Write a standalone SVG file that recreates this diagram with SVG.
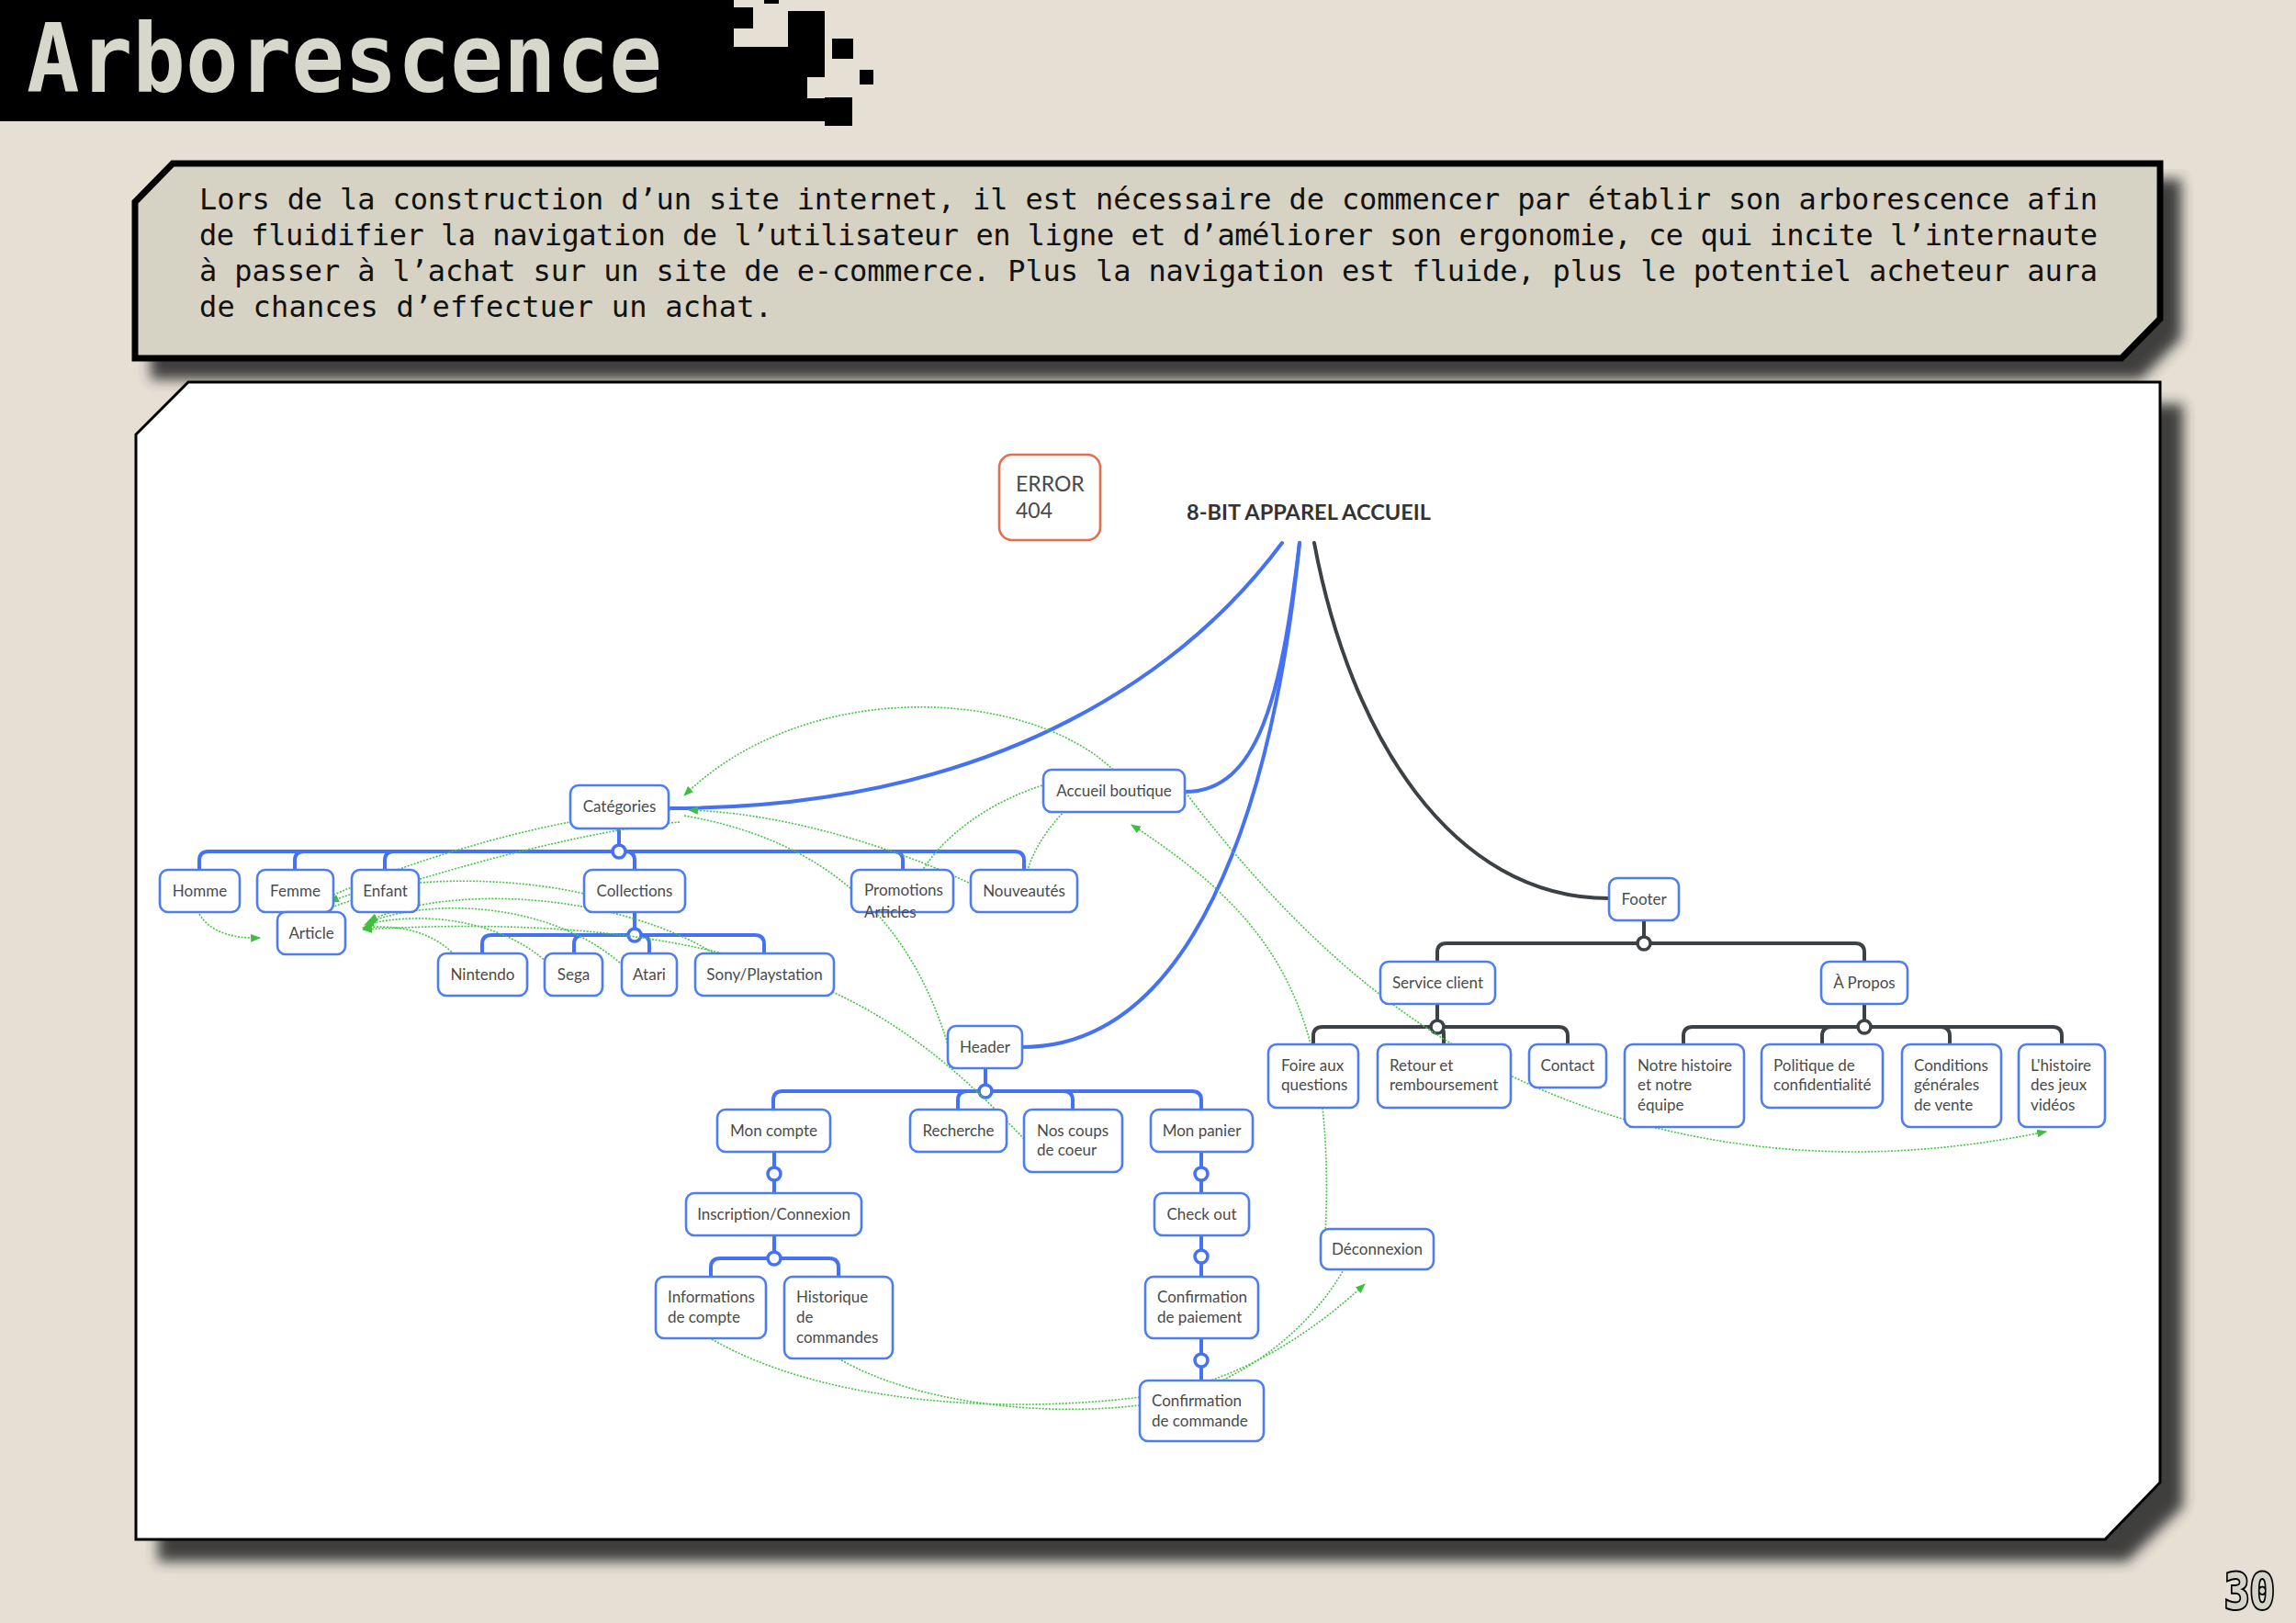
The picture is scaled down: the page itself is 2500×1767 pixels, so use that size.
<svg xmlns="http://www.w3.org/2000/svg" width="2500" height="1767" viewBox="0 0 2500 1767">
<defs>
<style>
.nb{fill:#fff;stroke:#4d7cf3;stroke-width:2.6}
.nt{font-family:Lato,"Noto Sans",sans-serif;font-size:17px;fill:#4a4a4a}
.big{font-size:23px}
.c{text-anchor:middle}
.bl{fill:none;stroke:#4572f4;stroke-width:4;stroke-linecap:round}
.dk{fill:none;stroke:#3c4146;stroke-width:4;stroke-linecap:round}
.cb{fill:#fff;stroke:#4572f4;stroke-width:3.5}
.cd{fill:#fff;stroke:#3c4146;stroke-width:3.5}
.g{fill:none;stroke:#45c645;stroke-width:1.6;stroke-dasharray:2 1.6}
.px{fill:#000}
.desc{font-family:"DejaVu Sans Mono",monospace;font-size:32px;fill:#111}
</style>
<marker id="ga" viewBox="0 0 10 8" refX="9" refY="4" markerWidth="11" markerHeight="9" markerUnits="userSpaceOnUse" orient="auto">
<path d="M0,0 L10,4 L0,8 z" fill="#3fbf3f"/>
</marker>
<filter id="sh" x="-5%" y="-5%" width="110%" height="115%">
<feGaussianBlur stdDeviation="7"/>
</filter>
</defs>
<rect width="2500" height="1767" fill="#e5dfd4"/>

<!-- title bar -->
<g id="title">
<rect class="px" x="0" y="0" width="799" height="132"/>
<rect class="px" x="799" y="51" width="80" height="81"/>
<rect class="px" x="799" y="8" width="21" height="23"/>
<rect class="px" x="832" y="0" width="16" height="4"/>
<rect class="px" x="858" y="12" width="40" height="41"/>
<rect class="px" x="879" y="53" width="19" height="31"/>
<rect class="px" x="879" y="107" width="19" height="25"/>
<rect class="px" x="898" y="106" width="30" height="31"/>
<rect class="px" x="906" y="42" width="23" height="22"/>
<rect class="px" x="936" y="76" width="15" height="16"/>
<text x="29" y="100" font-family="'DejaVu Sans Mono',monospace" font-weight="bold" font-size="103" fill="#d7d7cc" textLength="692" lengthAdjust="spacingAndGlyphs">Arborescence</text>
</g>

<!-- description box -->
<g id="description">
<polygon points="208,195 2375,195 2375,368 2331,413 164,413 164,240" fill="#2e2e2e" filter="url(#sh)" opacity="0.9"/>
<polygon points="188,178 2352,178 2352,347 2310,390 147,390 147,220" fill="#d6d3c5" stroke="#000" stroke-width="7" stroke-linejoin="miter"/>
<text class="desc" x="217" y="228" textLength="2067" lengthAdjust="spacing">Lors de la construction d’un site internet, il est nécessaire de commencer par établir son arborescence afin</text>
<text class="desc" x="217" y="267" textLength="2067" lengthAdjust="spacing">de fluidifier la navigation de l’utilisateur en ligne et d’améliorer son ergonomie, ce qui incite l’internaute</text>
<text class="desc" x="217" y="306" textLength="2067" lengthAdjust="spacing">à passer à l’achat sur un site de e-commerce. Plus la navigation est fluide, plus le potentiel acheteur aura</text>
<text class="desc" x="217" y="345" textLength="624" lengthAdjust="spacing">de chances d’effectuer un achat.</text>
</g>

<!-- panel -->
<g id="panel">
<polygon points="230,440 2377,440 2377,1640 2316,1700 172,1700 172,497" fill="#2e2e2e" filter="url(#sh)" opacity="0.9"/>
<polygon points="205,416 2352,416 2352,1614 2292,1676 148,1676 148,473" fill="#fff" stroke="#000" stroke-width="3"/>
</g>

<!-- connectors -->
<g id="connectors">
<!-- root -->
<path class="bl" d="M1396,591 C1300,720 1100,880 728,880"/>
<path class="bl" d="M1415,591 C1395,760 1370,862 1290,862"/>
<path class="bl" d="M1415,591 C1385,890 1295,1140 1113,1140"/>
<path class="dk" d="M1431,591 C1470,800 1580,978 1752,978"/>
<!-- Catégories -->
<path class="bl" d="M674,902 V920 M217,947 V937 Q217,927 227,927 H1105 Q1115,927 1115,937 V947 M321,947 V937 Q321,927 331,927 M419,947 V937 Q419,927 429,927 M691,947 V937 Q691,927 681,927 M983,947 V937 Q983,927 973,927"/>
<circle class="cb" cx="674" cy="927" r="7"/>
<!-- Collections -->
<path class="bl" d="M691,993 V1011 M525,1038 V1028 Q525,1018 535,1018 H822 Q832,1018 832,1028 V1038 M625,1038 V1028 Q625,1018 635,1018 M707,1038 V1028 Q707,1018 697,1018"/>
<circle class="cb" cx="691" cy="1018" r="7"/>
<!-- Header -->
<path class="bl" d="M1073,1163 V1181 M842,1208 V1198 Q842,1188 852,1188 H1298 Q1308,1188 1308,1198 V1208 M1043,1208 V1198 Q1043,1188 1053,1188 M1168,1208 V1198 Q1168,1188 1158,1188"/>
<circle class="cb" cx="1073" cy="1188" r="7"/>
<!-- Mon compte -->
<path class="bl" d="M843,1254 V1299 M843,1345 V1363 M774,1390 V1380 Q774,1370 784,1370 H903 Q913,1370 913,1380 V1390"/>
<circle class="cb" cx="843" cy="1278" r="7"/>
<circle class="cb" cx="843" cy="1370" r="7"/>
<!-- Mon panier -->
<path class="bl" d="M1308,1254 V1299 M1308,1345 V1390 M1308,1457 V1503"/>
<circle class="cb" cx="1308" cy="1278" r="7"/>
<circle class="cb" cx="1308" cy="1368" r="7"/>
<circle class="cb" cx="1308" cy="1481" r="7"/>
<!-- Footer -->
<path class="dk" d="M1790,1002 V1020 M1565,1047 V1037 Q1565,1027 1575,1027 H2020 Q2030,1027 2030,1037 V1047"/>
<circle class="cd" cx="1790" cy="1027" r="7"/>
<path class="dk" d="M1565,1093 V1111 M1430,1137 V1128 Q1430,1118 1440,1118 H1697 Q1707,1118 1707,1128 V1137 M1572,1137 V1126 Q1572,1118 1565,1118"/>
<circle class="cd" cx="1565" cy="1118" r="7"/>
<path class="dk" d="M2030,1093 V1111 M1833,1137 V1128 Q1833,1118 1843,1118 H2235 Q2245,1118 2245,1128 V1137 M1984,1137 V1128 Q1984,1118 1994,1118 M2123,1137 V1128 Q2123,1118 2113,1118"/>
<circle class="cd" cx="2030" cy="1118" r="7"/>

<!-- green links -->
<path class="g" marker-end="url(#ga)" d="M217,995 C228,1014 252,1022 283,1021"/>
<path class="g" marker-end="url(#ga)" d="M1212,838 C1120,750 880,735 745,866"/>
<path class="g" marker-end="url(#ga)" d="M1205,840 C1110,850 1020,900 990,975"/>
<path class="g" marker-end="url(#ga)" d="M1212,840 C1150,880 1115,930 1115,973"/>
<path class="g" marker-end="url(#ga)" d="M1115,993 C1010,930 860,885 750,882"/>
<path class="g" marker-end="url(#ga)" d="M730,882 C600,885 400,950 310,1000"/>
<path class="g" marker-end="url(#ga)" d="M740,895 C620,905 420,965 318,1003"/>
<path class="g" marker-end="url(#ga)" d="M700,993 C600,950 430,950 359,982"/>
<path class="g" marker-end="url(#ga)" d="M525,1083 C495,1020 450,1005 395,1010"/>
<path class="g" marker-end="url(#ga)" d="M624,1083 C580,1005 470,988 397,1007"/>
<path class="g" marker-end="url(#ga)" d="M706,1083 C640,985 480,972 399,1005"/>
<path class="g" marker-end="url(#ga)" d="M831,1083 C740,975 500,955 401,1003"/>
<path class="g" d="M745,888 C900,915 990,1000 1032,1137"/>
<path class="g" marker-end="url(#ga)" d="M1115,1240 C1000,1120 860,985 395,1012"/>
<path class="g" marker-end="url(#ga)" d="M1291,863 C1420,1030 1560,1160 1780,1222 C1950,1268 2100,1258 2228,1232"/>
<path class="g" marker-end="url(#ga)" d="M1443,1345 C1455,1100 1390,1000 1232,898"/>
<path class="g" marker-end="url(#ga)" d="M775,1458 C900,1530 1100,1540 1250,1520 C1350,1505 1430,1450 1486,1398"/>
<path class="g" d="M913,1479 C1000,1530 1150,1545 1262,1527 C1360,1505 1430,1440 1462,1384"/>
</g>

<!-- nodes -->
<g id="n-error"><rect x="1088" y="495" width="110" height="93" rx="14" fill="#fff" stroke="#e0704f" stroke-width="2.6"/><text class="nt big" x="1106" y="535">ERROR</text><text class="nt big" x="1106" y="564">404</text></g>
<g id="n-root"><text x="1425" y="566" font-family="Lato,'Noto Sans',sans-serif" font-weight="bold" font-size="22" fill="#333" text-anchor="middle" textLength="266" lengthAdjust="spacingAndGlyphs">8-BIT APPAREL ACCUEIL</text></g>
<g id="n-categories"><rect class="nb" x="621" y="855" width="107" height="47" rx="9"/><text class="nt c" x="674.5" y="884">Catégories</text></g>
<g id="n-homme"><rect class="nb" x="174" y="947" width="87" height="46" rx="9"/><text class="nt c" x="217.5" y="976">Homme</text></g>
<g id="n-femme"><rect class="nb" x="280" y="947" width="83" height="46" rx="9"/><text class="nt c" x="321.5" y="976">Femme</text></g>
<g id="n-enfant"><rect class="nb" x="383" y="947" width="73" height="46" rx="9"/><text class="nt c" x="419.5" y="976">Enfant</text></g>
<g id="n-article"><rect class="nb" x="302" y="993" width="74" height="46" rx="9"/><text class="nt c" x="339" y="1022">Article</text></g>
<g id="n-collections"><rect class="nb" x="636" y="947" width="110" height="46" rx="9"/><text class="nt c" x="691" y="976">Collections</text></g>
<g id="n-nintendo"><rect class="nb" x="477" y="1038" width="97" height="46" rx="9"/><text class="nt c" x="525.5" y="1067">Nintendo</text></g>
<g id="n-sega"><rect class="nb" x="593" y="1038" width="63" height="46" rx="9"/><text class="nt c" x="624.5" y="1067">Sega</text></g>
<g id="n-atari"><rect class="nb" x="677" y="1038" width="60" height="46" rx="9"/><text class="nt c" x="707" y="1067">Atari</text></g>
<g id="n-sony"><rect class="nb" x="757" y="1038" width="151" height="46" rx="9"/><text class="nt c" x="832.5" y="1067">Sony/Playstation</text></g>
<g id="n-promotions"><rect class="nb" x="927" y="947" width="111" height="46" rx="9"/><text class="nt" x="941" y="975">Promotions</text><text class="nt" x="941" y="999">Articles</text></g>
<g id="n-nouveautes"><rect class="nb" x="1057" y="947" width="116" height="46" rx="9"/><text class="nt c" x="1115" y="976">Nouveautés</text></g>
<g id="n-accueil"><rect class="nb" x="1136" y="838" width="154" height="46" rx="9"/><text class="nt c" x="1213" y="867">Accueil boutique</text></g>
<g id="n-header"><rect class="nb" x="1032" y="1117" width="81" height="46" rx="9"/><text class="nt c" x="1072.5" y="1146">Header</text></g>
<g id="n-moncompte"><rect class="nb" x="781" y="1208" width="123" height="46" rx="9"/><text class="nt c" x="842.5" y="1237">Mon compte</text></g>
<g id="n-recherche"><rect class="nb" x="991" y="1208" width="105" height="46" rx="9"/><text class="nt c" x="1043.5" y="1237">Recherche</text></g>
<g id="n-coups"><rect class="nb" x="1115" y="1208" width="107" height="68" rx="9"/><text class="nt" x="1129" y="1237">Nos coups</text><text class="nt" x="1129" y="1258">de coeur</text></g>
<g id="n-panier"><rect class="nb" x="1253" y="1208" width="111" height="46" rx="9"/><text class="nt c" x="1308.5" y="1237">Mon panier</text></g>
<g id="n-inscription"><rect class="nb" x="747" y="1299" width="191" height="46" rx="9"/><text class="nt c" x="842.5" y="1328">Inscription/Connexion</text></g>
<g id="n-checkout"><rect class="nb" x="1257" y="1299" width="103" height="46" rx="9"/><text class="nt c" x="1308.5" y="1328">Check out</text></g>
<g id="n-infos"><rect class="nb" x="714" y="1390" width="120" height="67" rx="9"/><text class="nt" x="727" y="1418">Informations</text><text class="nt" x="727" y="1440">de compte</text></g>
<g id="n-historique"><rect class="nb" x="854" y="1390" width="118" height="89" rx="9"/><text class="nt" x="867" y="1418">Historique</text><text class="nt" x="867" y="1440">de</text><text class="nt" x="867" y="1462">commandes</text></g>
<g id="n-paiement"><rect class="nb" x="1247" y="1390" width="123" height="67" rx="9"/><text class="nt" x="1260" y="1418">Confirmation</text><text class="nt" x="1260" y="1440">de paiement</text></g>
<g id="n-commande"><rect class="nb" x="1241" y="1503" width="135" height="66" rx="9"/><text class="nt" x="1254" y="1531">Confirmation</text><text class="nt" x="1254" y="1553">de commande</text></g>
<g id="n-deconnexion"><rect class="nb" x="1438" y="1338" width="123" height="44" rx="9"/><text class="nt c" x="1499.5" y="1366">Déconnexion</text></g>
<g id="n-footer"><rect class="nb" x="1752" y="956" width="76" height="46" rx="9"/><text class="nt c" x="1790" y="985">Footer</text></g>
<g id="n-service"><rect class="nb" x="1503" y="1047" width="125" height="46" rx="9"/><text class="nt c" x="1565.5" y="1076">Service client</text></g>
<g id="n-apropos"><rect class="nb" x="1983" y="1047" width="94" height="46" rx="9"/><text class="nt c" x="2030" y="1076">À Propos</text></g>
<g id="n-foire"><rect class="nb" x="1381" y="1137" width="98" height="69" rx="9"/><text class="nt" x="1395" y="1166">Foire aux</text><text class="nt" x="1395" y="1187">questions</text></g>
<g id="n-retour"><rect class="nb" x="1500" y="1137" width="145" height="69" rx="9"/><text class="nt" x="1513" y="1166">Retour et</text><text class="nt" x="1513" y="1187">remboursement</text></g>
<g id="n-contact"><rect class="nb" x="1665" y="1137" width="84" height="47" rx="9"/><text class="nt c" x="1707" y="1166">Contact</text></g>
<g id="n-notre"><rect class="nb" x="1769" y="1137" width="130" height="90" rx="9"/><text class="nt" x="1783" y="1166">Notre histoire</text><text class="nt" x="1783" y="1187">et notre</text><text class="nt" x="1783" y="1209">équipe</text></g>
<g id="n-politique"><rect class="nb" x="1918" y="1137" width="132" height="69" rx="9"/><text class="nt" x="1931" y="1166">Politique de</text><text class="nt" x="1931" y="1187">confidentialité</text></g>
<g id="n-conditions"><rect class="nb" x="2071" y="1137" width="108" height="90" rx="9"/><text class="nt" x="2084" y="1166">Conditions</text><text class="nt" x="2084" y="1187">générales</text><text class="nt" x="2084" y="1209">de vente</text></g>
<g id="n-lhistoire"><rect class="nb" x="2198" y="1137" width="94" height="90" rx="9"/><text class="nt" x="2211" y="1166">L'histoire</text><text class="nt" x="2211" y="1187">des jeux</text><text class="nt" x="2211" y="1209">vidéos</text></g>

<g id="page-number"><text x="2422" y="1751" font-family="'DejaVu Sans Mono',monospace" font-weight="bold" font-size="54" fill="#d6d4c6" stroke="#000" stroke-width="4" paint-order="stroke" textLength="55" lengthAdjust="spacingAndGlyphs">30</text></g>
</svg>
